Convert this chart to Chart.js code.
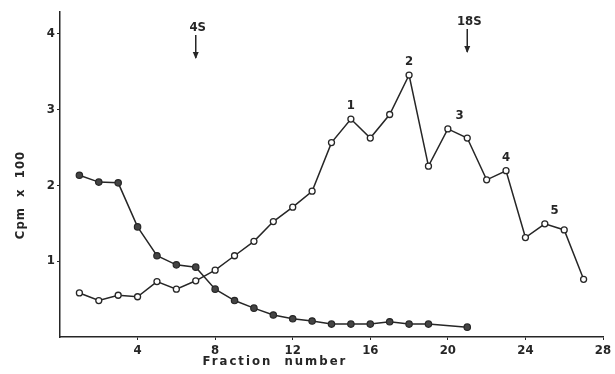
<!DOCTYPE html>
<html>
<head>
<meta charset="utf-8">
<script src="https://cdn.jsdelivr.net/npm/chart.js@4"></script>
<style>
  html, body { margin: 0; padding: 0; background: #fff; }
  #wrap { width: 615px; height: 374px; }
</style>
</head>
<body>
<div id="wrap"><canvas id="grafico"></canvas></div>
<script>
// fractions and counts (Cpm x 100)
const fracOpen = [1,2,3,4,5,6,7,8,9,10,11,12,13,14,15,16,17,18,19,20,21,22,23,24,25,26,27];
const cpmOpen = [0.58,0.48,0.55,0.53,0.73,0.63,0.74,0.88,1.07,1.26,1.52,1.71,1.92,2.56,2.87,2.62,2.93,3.45,2.25,2.74,2.62,2.07,2.19,1.31,1.49,1.41,0.76];

const fracFilled = [1,2,3,4,5,6,7,8,9,10,11,12,13,14,15,16,17,18,19,21];
const cpmFilled = [2.13,2.04,2.03,1.45,1.07,0.95,0.92,0.63,0.48,0.38,0.29,0.24,0.21,0.17,0.17,0.17,0.2,0.17,0.17,0.13];

const xTicks = [4, 8, 12, 16, 20, 24, 28];
const yTicks = [1, 2, 3, 4];

// peak labels: [fraction, cpm, text]
const peakLabels = [[15, 2.87, "1"], [18, 3.45, "2"], [20.6, 2.74, "3"], [23, 2.19, "4"], [25.5, 1.49, "5"]];
// sedimentation markers: [fraction, text]
const markers = [[7, "4S"], [21, "18S"]];

const ink = "#262626";
const fuente = "bold 13px 'DejaVu Sans Condensed', 'DejaVu Sans', sans-serif";

function puntos(xs, ys) {
    return xs.map((x, i) => ({ x: x, y: ys[i] }));
}

const textos = {
    id: "textos",
    afterDatasetsDraw(chart) {
        const ctx = chart.ctx;
        const sx = chart.scales.x;
        const sy = chart.scales.y;
        ctx.save();
        ctx.fillStyle = ink;
        ctx.strokeStyle = ink;
        ctx.font = fuente;
        ctx.textAlign = "center";
        ctx.textBaseline = "middle";

        peakLabels.forEach(p => {
            ctx.fillText(p[2], sx.getPixelForValue(p[0]), sy.getPixelForValue(p[1]) - 13);
        });

        markers.forEach((m, i) => {
            const px = sx.getPixelForValue(m[0]);
            const top = i === 0 ? 28 : 22;
            ctx.fillText(m[1], px + 2, top);
            ctx.lineWidth = 1.5;
            ctx.beginPath();
            ctx.moveTo(px, top + 7);
            ctx.lineTo(px, top + 30);
            ctx.stroke();
            ctx.beginPath();
            ctx.moveTo(px - 3, top + 24);
            ctx.lineTo(px, top + 31);
            ctx.lineTo(px + 3, top + 24);
            ctx.closePath();
            ctx.fill();
        });

        ctx.letterSpacing = "2px";
        ctx.fillText("Fraction  number", 275, 362);

        ctx.translate(21, 195);
        ctx.rotate(-Math.PI / 2);
        ctx.letterSpacing = "1px";
        ctx.fillText("Cpm  x  100", 0, 0);
        ctx.restore();
    }
};

new Chart(document.getElementById("grafico"), {
    type: "line",
    data: {
        datasets: [{
            data: puntos(fracFilled, cpmFilled),
            borderColor: ink,
            borderWidth: 1.5,
            backgroundColor: ink,
            pointBackgroundColor: "#444",
            pointBorderColor: ink,
            pointRadius: 3.2,
            pointBorderWidth: 1.2,
            tension: 0
        }, {
            data: puntos(fracOpen, cpmOpen),
            borderColor: ink,
            borderWidth: 1.5,
            pointBackgroundColor: "#fff",
            pointBorderColor: ink,
            pointRadius: 3,
            pointBorderWidth: 1.3,
            tension: 0
        }]
    },
    options: {
        responsive: true,
        maintainAspectRatio: false,
        animation: false,
        layout: { padding: { top: 12, right: 12, left: 0, bottom: 0 } },
        plugins: {
            legend: { display: false },
            tooltip: { enabled: false }
        },
        scales: {
            x: {
                type: "linear",
                min: 0,
                max: 28,
                afterBuildTicks: s => { s.ticks = xTicks.map(v => ({ value: v })); },
                afterFit: s => { s.height = 37; },
                grid: { drawOnChartArea: false, tickLength: 3, color: ink },
                border: { color: ink, width: 1.5 },
                ticks: { color: ink, font: { family: "'DejaVu Sans Condensed', 'DejaVu Sans'", size: 13, weight: "bold" }, padding: 3, maxRotation: 0 }
            },
            y: {
                min: 0,
                max: 4.28,
                afterBuildTicks: s => { s.ticks = yTicks.map(v => ({ value: v })); },
                afterFit: s => { s.width = 60; },
                grid: { drawOnChartArea: false, tickLength: 3, color: ink },
                border: { color: ink, width: 1.5 },
                ticks: { color: ink, font: { family: "'DejaVu Sans Condensed', 'DejaVu Sans'", size: 13, weight: "bold" }, padding: 2 }
            }
        }
    },
    plugins: [textos]
});
</script>
</body>
</html>
